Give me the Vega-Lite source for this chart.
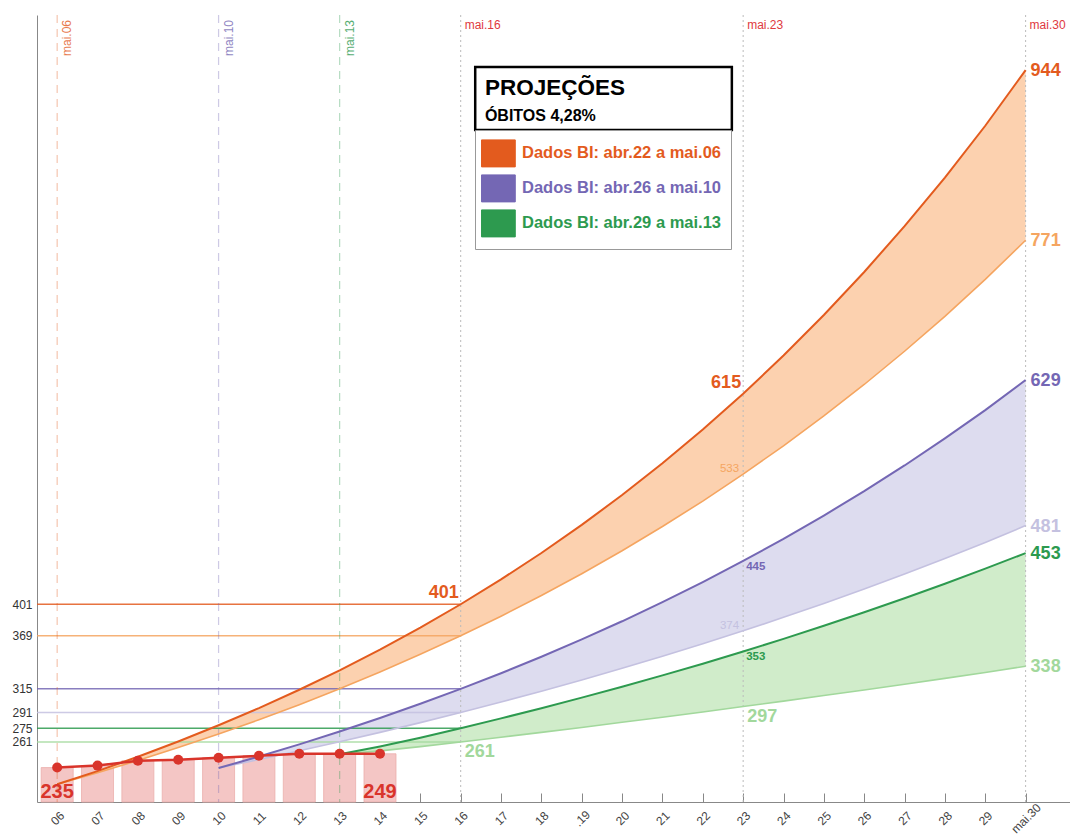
{
  "$schema": "https://vega.github.io/schema/vega-lite/v6.json",
  "width": 1033,
  "height": 787,
  "autosize": "none",
  "padding": {"left": 37, "top": 15, "right": 0, "bottom": 37},
  "background": "white",
  "config": {
    "view": {"stroke": null},
    "font": "Liberation Sans",
    "axis": {"labelFont": "Liberation Sans", "titleFont": "Liberation Sans"},
    "legend": {"labelFont": "Liberation Sans", "titleFont": "Liberation Sans"},
    "text": {"font": "Liberation Sans"}
  },
  "datasets": {
    "dados": [
      {"dia": 6, "valor": 235}, {"dia": 7, "valor": 237}, {"dia": 8, "valor": 242},
      {"dia": 9, "valor": 243}, {"dia": 10, "valor": 245}, {"dia": 11, "valor": 247},
      {"dia": 12, "valor": 249}, {"dia": 13, "valor": 249}, {"dia": 14, "valor": 249}
    ],
    "proj": [
      {"serie": "A", "dia": 6, "sup": 218, "inf": 218},
      {"serie": "A", "dia": 7, "sup": 231.4, "inf": 229.8},
      {"serie": "A", "dia": 8, "sup": 246, "inf": 242.2},
      {"serie": "A", "dia": 9, "sup": 261.5, "inf": 255.3},
      {"serie": "A", "dia": 10, "sup": 278, "inf": 269.1},
      {"serie": "A", "dia": 11, "sup": 295.5, "inf": 283.6},
      {"serie": "A", "dia": 12, "sup": 314.1, "inf": 298.9},
      {"serie": "A", "dia": 13, "sup": 333.9, "inf": 315.1},
      {"serie": "A", "dia": 14, "sup": 354.9, "inf": 332.1},
      {"serie": "A", "dia": 15, "sup": 377.3, "inf": 350.1},
      {"serie": "A", "dia": 16, "sup": 401, "inf": 369},
      {"serie": "A", "dia": 17, "sup": 426.3, "inf": 388.9},
      {"serie": "A", "dia": 18, "sup": 453.1, "inf": 409.9},
      {"serie": "A", "dia": 19, "sup": 481.7, "inf": 432.1},
      {"serie": "A", "dia": 20, "sup": 512, "inf": 455.4},
      {"serie": "A", "dia": 21, "sup": 544.3, "inf": 480},
      {"serie": "A", "dia": 22, "sup": 578.6, "inf": 505.9},
      {"serie": "A", "dia": 23, "sup": 615, "inf": 533.3},
      {"serie": "A", "dia": 24, "sup": 653.8, "inf": 562.1},
      {"serie": "A", "dia": 25, "sup": 695, "inf": 592.4},
      {"serie": "A", "dia": 26, "sup": 738.8, "inf": 624.4},
      {"serie": "A", "dia": 27, "sup": 785.3, "inf": 658.2},
      {"serie": "A", "dia": 28, "sup": 834.8, "inf": 693.7},
      {"serie": "A", "dia": 29, "sup": 887.4, "inf": 731.2},
      {"serie": "A", "dia": 30, "sup": 944, "inf": 771},
      {"serie": "B", "dia": 10, "sup": 234.5, "inf": 234.5},
      {"serie": "B", "dia": 11, "sup": 246.2, "inf": 243.2},
      {"serie": "B", "dia": 12, "sup": 258.6, "inf": 252.1},
      {"serie": "B", "dia": 13, "sup": 271.7, "inf": 261.3},
      {"serie": "B", "dia": 14, "sup": 285.4, "inf": 270.8},
      {"serie": "B", "dia": 15, "sup": 299.9, "inf": 280.7},
      {"serie": "B", "dia": 16, "sup": 315, "inf": 291},
      {"serie": "B", "dia": 17, "sup": 330.9, "inf": 301.6},
      {"serie": "B", "dia": 18, "sup": 347.7, "inf": 312.6},
      {"serie": "B", "dia": 19, "sup": 365.3, "inf": 324.1},
      {"serie": "B", "dia": 20, "sup": 383.7, "inf": 335.9},
      {"serie": "B", "dia": 21, "sup": 403.2, "inf": 348.2},
      {"serie": "B", "dia": 22, "sup": 423.6, "inf": 360.9},
      {"serie": "B", "dia": 23, "sup": 445, "inf": 374},
      {"serie": "B", "dia": 24, "sup": 467.5, "inf": 387.7},
      {"serie": "B", "dia": 25, "sup": 491.2, "inf": 401.8},
      {"serie": "B", "dia": 26, "sup": 516, "inf": 416.5},
      {"serie": "B", "dia": 27, "sup": 542.1, "inf": 431.7},
      {"serie": "B", "dia": 28, "sup": 569.6, "inf": 447.5},
      {"serie": "B", "dia": 29, "sup": 598.4, "inf": 463.8},
      {"serie": "B", "dia": 30, "sup": 629, "inf": 481},
      {"serie": "C", "dia": 13, "sup": 248.5, "inf": 248.5},
      {"serie": "C", "dia": 14, "sup": 256.5, "inf": 252},
      {"serie": "C", "dia": 15, "sup": 265.4, "inf": 256.3},
      {"serie": "C", "dia": 16, "sup": 275, "inf": 261},
      {"serie": "C", "dia": 17, "sup": 285, "inf": 265.9},
      {"serie": "C", "dia": 18, "sup": 295.3, "inf": 270.8},
      {"serie": "C", "dia": 19, "sup": 306.1, "inf": 275.8},
      {"serie": "C", "dia": 20, "sup": 317.2, "inf": 281},
      {"serie": "C", "dia": 21, "sup": 328.7, "inf": 286.2},
      {"serie": "C", "dia": 22, "sup": 340.6, "inf": 291.5},
      {"serie": "C", "dia": 23, "sup": 353, "inf": 297},
      {"serie": "C", "dia": 24, "sup": 365.8, "inf": 302.5},
      {"serie": "C", "dia": 25, "sup": 379.1, "inf": 308.2},
      {"serie": "C", "dia": 26, "sup": 392.9, "inf": 313.9},
      {"serie": "C", "dia": 27, "sup": 407.1, "inf": 319.7},
      {"serie": "C", "dia": 28, "sup": 421.9, "inf": 325.7},
      {"serie": "C", "dia": 29, "sup": 437.2, "inf": 331.7},
      {"serie": "C", "dia": 30, "sup": 453, "inf": 338}
    ],
    "niveis": [
      {"dia": 16, "valor": 401, "curva": "A_sup"},
      {"dia": 16, "valor": 369, "curva": "A_inf"},
      {"dia": 16, "valor": 315, "curva": "B_sup"},
      {"dia": 16, "valor": 291, "curva": "B_inf"},
      {"dia": 16, "valor": 275, "curva": "C_sup"},
      {"dia": 16, "valor": 261, "curva": "C_inf"}
    ],
    "marcos": [
      {"dia": 6, "rotulo": "mai.06", "curva": "A_sup"},
      {"dia": 10, "rotulo": "mai.10", "curva": "B_sup"},
      {"dia": 13, "rotulo": "mai.13", "curva": "C_sup"}
    ],
    "fixos": [
      {"dia": 16, "rotulo": "mai.16"},
      {"dia": 23, "rotulo": "mai.23"},
      {"dia": 30, "rotulo": "mai.30"}
    ],
    "rot_fim": [
      {"dia": 30, "valor": 944, "curva": "A_sup"},
      {"dia": 30, "valor": 771, "curva": "A_inf"},
      {"dia": 30, "valor": 629, "curva": "B_sup"},
      {"dia": 30, "valor": 481, "curva": "B_inf"},
      {"dia": 30, "valor": 453, "curva": "C_sup"},
      {"dia": 30, "valor": 338, "curva": "C_inf"}
    ],
    "rot_esq_grande": [
      {"dia": 23, "valor": 615, "curva": "A_sup"},
      {"dia": 16, "valor": 401, "curva": "A_sup"}
    ],
    "rot_dir_grande": [
      {"dia": 23, "valor": 297, "curva": "C_inf"},
      {"dia": 16, "valor": 261, "curva": "C_inf"}
    ],
    "rot_esq_peq": [
      {"dia": 23, "valor": 533, "curva": "A_inf"},
      {"dia": 23, "valor": 374, "curva": "B_inf"}
    ],
    "rot_dir_peq": [
      {"dia": 23, "valor": 445, "curva": "B_sup"},
      {"dia": 23, "valor": 353, "curva": "C_sup"}
    ]
  },
  "layer": [
    {
      "data": {"name": "dados"},
      "mark": {"type": "bar", "width": 32, "fill": "#f4c6c5", "stroke": "#ebaeac", "strokeWidth": 0.8},
      "encoding": {
        "x": {
          "field": "dia", "type": "quantitative",
          "scale": {"domain": [5.5, 31.1], "nice": false, "zero": false, "padding": 0},
          "axis": {
            "values": [6,7,8,9,10,11,12,13,14,15,16,17,18,19,20,21,22,23,24,25,26,27,28,29,30],
            "labelExpr": "datum.value == 30 ? 'mai.30' : datum.value == 19 ? '.19' : (datum.value < 10 ? '0' + datum.value : '' + datum.value)",
            "labelAngle": -45, "labelAlign": "center", "labelBaseline": "middle",
            "labelPadding": 25, "tickSize": -9, "tickColor": "#888", "domainColor": "#888",
            "labelFont": "Liberation Sans", "labelFontSize": 12, "labelColor": "#444", "grid": false, "title": null,
            "labelOverlap": false, "labelFlush": false, "labelBound": false
          }
        },
        "y": {
          "field": "valor", "type": "quantitative",
          "scale": {"domain": [200, 1000], "nice": false, "zero": false, "padding": 0},
          "axis": {
            "values": [261, 275, 291, 315, 369, 401], "ticks": false, "grid": false,
            "domainColor": "#888", "labelFont": "Liberation Sans", "labelFontSize": 12, "labelColor": "#333",
            "labelPadding": 5, "title": null, "labelOverlap": false
          }
        },
        "y2": {"datum": 200}
      }
    },
    {
      "data": {"name": "proj"},
      "mark": {"type": "area"},
      "encoding": {
        "x": {"field": "dia", "type": "quantitative"},
        "y": {"field": "sup", "type": "quantitative"},
        "y2": {"field": "inf"},
        "detail": {"field": "serie"},
        "fill": {"field": "serie", "type": "nominal", "scale": {"domain": ["C", "B", "A"], "range": ["#d0ecca", "#dddcef", "#fcd1af"]}, "legend": null}
      }
    },
    {
      "data": {"name": "niveis"},
      "mark": {"type": "rule", "strokeWidth": 1.5, "opacity": 0.85},
      "encoding": {
        "x": {"field": "dia", "type": "quantitative"},
        "x2": {"datum": 5.5},
        "y": {"field": "valor", "type": "quantitative"},
        "color": {"field": "curva", "type": "nominal", "scale": {"domain": ["A", "B", "C", "A_sup", "A_inf", "B_sup", "B_inf", "C_sup", "C_inf"], "range": ["#f5a560", "#c4c1e0", "#a2d89c", "#e35b1e", "#f5a560", "#7467b4", "#c4c1e0", "#2d9a4f", "#a2d89c"]}, "legend": null}
      }
    },
    {
      "data": {"name": "marcos"},
      "mark": {"type": "rule", "strokeWidth": 1.2, "strokeDash": [8, 6], "opacity": 0.35},
      "encoding": {
        "x": {"field": "dia", "type": "quantitative"},
        "color": {"field": "curva", "type": "nominal", "scale": {"domain": ["A", "B", "C", "A_sup", "A_inf", "B_sup", "B_inf", "C_sup", "C_inf"], "range": ["#f5a560", "#c4c1e0", "#a2d89c", "#e35b1e", "#f5a560", "#7467b4", "#c4c1e0", "#2d9a4f", "#a2d89c"]}, "legend": null}
      }
    },
    {
      "data": {"name": "fixos"},
      "mark": {"type": "rule", "strokeWidth": 1, "strokeDash": [2, 3], "color": "#bbbbbb"},
      "encoding": {
        "x": {"field": "dia", "type": "quantitative"}
      }
    },
    {
      "data": {"name": "proj"},
      "mark": {"type": "line", "strokeWidth": 1.6},
      "encoding": {
        "x": {"field": "dia", "type": "quantitative"},
        "y": {"field": "inf", "type": "quantitative"},
        "color": {"field": "serie", "type": "nominal", "scale": {"domain": ["A", "B", "C", "A_sup", "A_inf", "B_sup", "B_inf", "C_sup", "C_inf"], "range": ["#f5a560", "#c4c1e0", "#a2d89c", "#e35b1e", "#f5a560", "#7467b4", "#c4c1e0", "#2d9a4f", "#a2d89c"]}, "legend": null}
      }
    },
    {
      "data": {"name": "proj"},
      "mark": {"type": "line", "strokeWidth": 2},
      "encoding": {
        "x": {"field": "dia", "type": "quantitative"},
        "y": {"field": "sup", "type": "quantitative"},
        "stroke": {
          "field": "serie", "type": "nominal",
          "scale": {"domain": ["A", "B", "C"], "range": ["#e35b1e", "#7467b4", "#2d9a4f"]},
          "legend": {
            "orient": "none", "legendX": 438, "legendY": 115, "title": null, "direction": "vertical",
            "symbolType": "M-1.25,-1H1.25V1H-1.25Z", "symbolSize": 729, "symbolStrokeWidth": 1,
            "labelFont": "Liberation Sans", "labelFontSize": 16.5, "labelFontWeight": "bold",
            "labelOffset": 9.6, "rowPadding": 3, "padding": 9.4, "strokeColor": "#999999", "fillColor": "white",
            "labelLimit": 400,
            "labelExpr": "datum.label == 'A' ? 'Dados BI: abr.22 a mai.06' : datum.label == 'B' ? 'Dados BI: abr.26 a mai.10' : 'Dados BI: abr.29 a mai.13'",
            "encoding": {
              "labels": {"fill": {"value": {"expr": "scale('stroke', datum.value)"}}},
              "symbols": {"fill": {"value": {"expr": "scale('stroke', datum.value)"}}, "stroke": {"value": "#555555"}, "opacity": {"value": 1}, "fillOpacity": {"value": 1}, "strokeWidth": {"value": 1}}
            }
          }
        }
      }
    },
    {
      "data": {"name": "dados"},
      "mark": {"type": "line", "color": "#d9342b", "strokeWidth": 2.5},
      "encoding": {
        "x": {"field": "dia", "type": "quantitative"},
        "y": {"field": "valor", "type": "quantitative"}
      }
    },
    {
      "data": {"name": "dados"},
      "mark": {"type": "circle", "color": "#d9342b", "size": 100, "opacity": 1},
      "encoding": {
        "x": {"field": "dia", "type": "quantitative"},
        "y": {"field": "valor", "type": "quantitative"}
      }
    },
    {
      "data": {"name": "dados"},
      "transform": [{"filter": "datum.dia == 6 || datum.dia == 14"}],
      "mark": {"type": "text", "color": "#d9342b", "fontSize": 20, "fontWeight": "bold", "align": "center", "baseline": "alphabetic", "dy": -4},
      "encoding": {
        "x": {"field": "dia", "type": "quantitative"},
        "y": {"datum": 200, "type": "quantitative"},
        "text": {"field": "valor", "type": "quantitative", "format": "d"}
      }
    },
    {
      "data": {"name": "marcos"},
      "mark": {"type": "text", "fontSize": 12, "angle": 270, "align": "right", "baseline": "top", "dx": -5, "dy": 5, "opacity": 0.8},
      "encoding": {
        "x": {"field": "dia", "type": "quantitative"},
        "y": {"datum": 1000, "type": "quantitative"},
        "text": {"field": "rotulo", "type": "nominal"},
        "color": {"field": "curva", "type": "nominal", "scale": {"domain": ["A", "B", "C", "A_sup", "A_inf", "B_sup", "B_inf", "C_sup", "C_inf"], "range": ["#f5a560", "#c4c1e0", "#a2d89c", "#e35b1e", "#f5a560", "#7467b4", "#c4c1e0", "#2d9a4f", "#a2d89c"]}, "legend": null}
      }
    },
    {
      "data": {"name": "fixos"},
      "mark": {"type": "text", "fontSize": 12, "align": "left", "baseline": "top", "dx": 4, "dy": 5, "color": "#e0393e"},
      "encoding": {
        "x": {"field": "dia", "type": "quantitative"},
        "y": {"datum": 1000, "type": "quantitative"},
        "text": {"field": "rotulo", "type": "nominal"}
      }
    },
    {
      "data": {"name": "rot_fim"},
      "mark": {"type": "text", "fontSize": 18, "fontWeight": "bold", "align": "left", "baseline": "middle", "dx": 5, "dy": 1},
      "encoding": {
        "x": {"field": "dia", "type": "quantitative"},
        "y": {"field": "valor", "type": "quantitative"},
        "text": {"field": "valor", "type": "quantitative", "format": "d"},
        "color": {"field": "curva", "type": "nominal", "scale": {"domain": ["A", "B", "C", "A_sup", "A_inf", "B_sup", "B_inf", "C_sup", "C_inf"], "range": ["#f5a560", "#c4c1e0", "#a2d89c", "#e35b1e", "#f5a560", "#7467b4", "#c4c1e0", "#2d9a4f", "#a2d89c"]}, "legend": null}
      }
    },
    {
      "data": {"name": "rot_esq_grande"},
      "mark": {"type": "text", "fontSize": 18, "fontWeight": "bold", "align": "right", "baseline": "middle", "dx": -2, "dy": -11},
      "encoding": {
        "x": {"field": "dia", "type": "quantitative"},
        "y": {"field": "valor", "type": "quantitative"},
        "text": {"field": "valor", "type": "quantitative", "format": "d"},
        "color": {"field": "curva", "type": "nominal", "scale": {"domain": ["A", "B", "C", "A_sup", "A_inf", "B_sup", "B_inf", "C_sup", "C_inf"], "range": ["#f5a560", "#c4c1e0", "#a2d89c", "#e35b1e", "#f5a560", "#7467b4", "#c4c1e0", "#2d9a4f", "#a2d89c"]}, "legend": null}
      }
    },
    {
      "data": {"name": "rot_dir_grande"},
      "mark": {"type": "text", "fontSize": 18, "fontWeight": "bold", "align": "left", "baseline": "middle", "dx": 4, "dy": 10},
      "encoding": {
        "x": {"field": "dia", "type": "quantitative"},
        "y": {"field": "valor", "type": "quantitative"},
        "text": {"field": "valor", "type": "quantitative", "format": "d"},
        "color": {"field": "curva", "type": "nominal", "scale": {"domain": ["A", "B", "C", "A_sup", "A_inf", "B_sup", "B_inf", "C_sup", "C_inf"], "range": ["#f5a560", "#c4c1e0", "#a2d89c", "#e35b1e", "#f5a560", "#7467b4", "#c4c1e0", "#2d9a4f", "#a2d89c"]}, "legend": null}
      }
    },
    {
      "data": {"name": "rot_esq_peq"},
      "mark": {"type": "text", "fontSize": 11.5, "align": "right", "baseline": "middle", "dx": -4, "dy": -5},
      "encoding": {
        "x": {"field": "dia", "type": "quantitative"},
        "y": {"field": "valor", "type": "quantitative"},
        "text": {"field": "valor", "type": "quantitative", "format": "d"},
        "color": {"field": "curva", "type": "nominal", "scale": {"domain": ["A", "B", "C", "A_sup", "A_inf", "B_sup", "B_inf", "C_sup", "C_inf"], "range": ["#f5a560", "#c4c1e0", "#a2d89c", "#e35b1e", "#f5a560", "#7467b4", "#c4c1e0", "#2d9a4f", "#a2d89c"]}, "legend": null}
      }
    },
    {
      "data": {"name": "rot_dir_peq"},
      "mark": {"type": "text", "fontSize": 11.5, "fontWeight": "bold", "align": "left", "baseline": "middle", "dx": 3, "dy": 6},
      "encoding": {
        "x": {"field": "dia", "type": "quantitative"},
        "y": {"field": "valor", "type": "quantitative"},
        "text": {"field": "valor", "type": "quantitative", "format": "d"},
        "color": {"field": "curva", "type": "nominal", "scale": {"domain": ["A", "B", "C", "A_sup", "A_inf", "B_sup", "B_inf", "C_sup", "C_inf"], "range": ["#f5a560", "#c4c1e0", "#a2d89c", "#e35b1e", "#f5a560", "#7467b4", "#c4c1e0", "#2d9a4f", "#a2d89c"]}, "legend": null}
      }
    },
    {
      "data": {"values": [{}]},
      "mark": {"type": "rect", "fill": "white", "stroke": "black", "strokeWidth": 2.5},
      "encoding": {
        "x": {"datum": 16.36, "type": "quantitative"},
        "x2": {"datum": 22.72},
        "y": {"datum": 947.1, "type": "quantitative"},
        "y2": {"datum": 883.1}
      }
    },
    {
      "data": {"values": [{}]},
      "mark": {"type": "text", "text": "PROJEÇÕES", "fontSize": 22.5, "fontWeight": "bold", "align": "left", "baseline": "alphabetic", "color": "black"},
      "encoding": {
        "x": {"datum": 16.6, "type": "quantitative"},
        "y": {"datum": 918.7, "type": "quantitative"}
      }
    },
    {
      "data": {"values": [{}]},
      "mark": {"type": "text", "text": "ÓBITOS 4,28%", "fontSize": 16, "fontWeight": "bold", "align": "left", "baseline": "alphabetic", "color": "black"},
      "encoding": {
        "x": {"datum": 16.6, "type": "quantitative"},
        "y": {"datum": 892.3, "type": "quantitative"}
      }
    }
  ]
}
